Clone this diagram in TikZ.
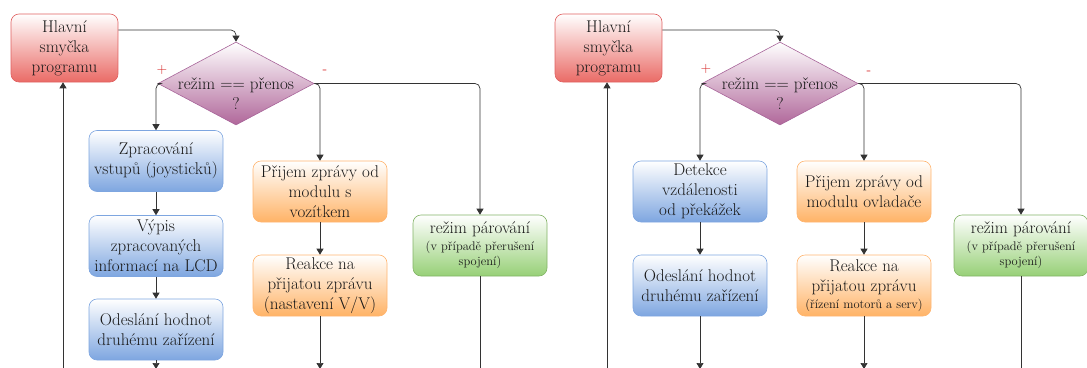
\documentclass[tikz,border=0pt]{standalone}
\usetikzlibrary{shapes.geometric, arrows.meta}

\definecolor{loopfill}{HTML}{EA6B66}
\definecolor{loopdraw}{HTML}{E06060}
\definecolor{decfill}{HTML}{B0679A}
\definecolor{decdraw}{HTML}{A8659A}
\definecolor{bluefill}{HTML}{7EA6E0}
\definecolor{bluedraw}{HTML}{7EA6E0}
\definecolor{orangefill}{HTML}{FFB366}
\definecolor{orangedraw}{HTML}{FFB570}
\definecolor{greenfill}{HTML}{97D077}
\definecolor{greendraw}{HTML}{82B366}
\definecolor{signred}{HTML}{D42020}

\newcommand{\smalltext}{\fontsize{12.5}{15}\selectfont}

\begin{document}
\begin{tikzpicture}[x=1pt, y=-1pt]
  \tikzstyle{box} = [rectangle, rounded corners=8pt, draw, line width=0.6pt, minimum width=134pt, minimum height=61pt, align=center, inner sep=1pt, font=\fontsize{17}{20}\selectfont, text=black!90]
  \tikzstyle{loop_box} = [box, draw=loopdraw, top color=white, bottom color=loopfill, minimum width=107pt, minimum height=68pt]
  \tikzstyle{blue_box} = [box, draw=bluedraw, top color=white, bottom color=bluefill]
  \tikzstyle{orange_box} = [box, draw=orangedraw, top color=white, bottom color=orangefill]
  \tikzstyle{green_box} = [box, draw=greendraw, top color=white, bottom color=greenfill]
  \tikzstyle{decision} = [diamond, draw=decdraw, line width=0.6pt, top color=white, bottom color=decfill, minimum width=156pt, minimum height=83pt, inner sep=0pt]
  \tikzstyle{dec_text} = [align=center, font=\fontsize{17}{20}\selectfont, text=black!90]
  \tikzstyle{sign} = [text=signred, font=\fontsize{14}{14}\selectfont, inner sep=0pt]
  \tikzstyle{arrow} = [-{Triangle[length=6pt, width=7pt]}, line width=0.7pt, draw=black!80, rounded corners=5pt]
  \tikzstyle{line} = [-, line width=0.7pt, draw=black!80]

  \useasboundingbox (0,0) rectangle (1087,367);

  % left diagram
  \node [loop_box] at (64.5,48) (hlavA) {Hlavní\\smyčka\\programu};
  \node [decision] at (236,83.5) (diaA) {};
  \node [dec_text] at (236,94) (diaA_text) {režim == přenos\\?};
  \node [sign] at (162,70) (plusA) {+};
  \node [sign] at (325,72) (minusA) {-};
  \node [blue_box] at (156,161) (zprA) {Zpracování\\vstupů (joysticků)};
  \node [blue_box] at (156,246) (vypA) {Výpis\\zpracovaných\\informací na LCD};
  \node [blue_box] at (156,329.5) (odeA) {Odeslání hodnot\\druhému zařízení};
  \node [orange_box] at (320,191.5) (prijA) {Přijem zprávy od\\modulu s\\vozítkem};
  \node [orange_box] at (320,285.5) (reakA) {Reakce na\\přijatou zprávu\\(nastavení V/V)};
  \node [green_box] at (480,245.5) (parA) {režim párování\\[-3pt]{\smalltext(v případě přerušení}\\[-5pt]{\smalltext spojení)}};

  \coordinate (loopA) at (63,372);
  \coordinate (endA1) at (156,369);
  \coordinate (endA2) at (320,369);
  \coordinate (endA3) at (480,372);

  \draw[arrow] ([yshift=18pt]hlavA.east) -| (diaA.north);
  \draw[arrow] (diaA.west) -| (zprA.north);
  \draw[arrow] (zprA) to (vypA);
  \draw[arrow] (vypA) to (odeA);
  \draw[arrow] (odeA) to (endA1);
  \draw[arrow] (diaA.east) -| (prijA.north);
  \draw[arrow] (diaA.east) -| (parA.north);
  \draw[arrow] (prijA) to (reakA);
  \draw[arrow] (reakA) to (endA2);
  \draw[line] (parA) to (endA3);
  \draw[arrow] (loopA) to (loopA |- hlavA.south);

  % right diagram
  \node [loop_box] at (608.5,48) (hlavB) {Hlavní\\smyčka\\programu};
  \node [decision] at (780,83.5) (diaB) {};
  \node [dec_text] at (780,94) (diaB_text) {režim == přenos\\?};
  \node [sign] at (706,69) (plusB) {+};
  \node [sign] at (869,73) (minusB) {-};
  \node [blue_box] at (700,191.5) (detB) {Detekce\\vzdálenosti\\od překážek};
  \node [blue_box] at (700,285.5) (odeB) {Odeslání hodnot\\druhému zařízení};
  \node [orange_box] at (864,191.5) (prijB) {Přijem zprávy od\\modulu ovladače};
  \node [orange_box] at (864,285.5) (reakB) {Reakce na\\přijatou zprávu\\[-3pt]{\smalltext(řízení motorů a serv)}};
  \node [green_box] at (1021,245.5) (parB) {režim párování\\[-3pt]{\smalltext(v případě přerušení}\\[-5pt]{\smalltext spojení)}};

  \coordinate (loopB) at (607,372);
  \coordinate (endB1) at (700,369);
  \coordinate (endB2) at (864,369);
  \coordinate (endB3) at (1021,372);

  \draw[arrow] ([yshift=18pt]hlavB.east) -| (diaB.north);
  \draw[arrow] (diaB.west) -| (detB.north);
  \draw[arrow] (detB) to (odeB);
  \draw[arrow] (odeB) to (endB1);
  \draw[arrow] (diaB.east) -| (prijB.north);
  \draw[arrow] (diaB.east) -| (parB.north);
  \draw[arrow] (prijB) to (reakB);
  \draw[arrow] (reakB) to (endB2);
  \draw[line] (parB) to (endB3);
  \draw[arrow] (loopB) to (loopB |- hlavB.south);
\end{tikzpicture}
\end{document}
